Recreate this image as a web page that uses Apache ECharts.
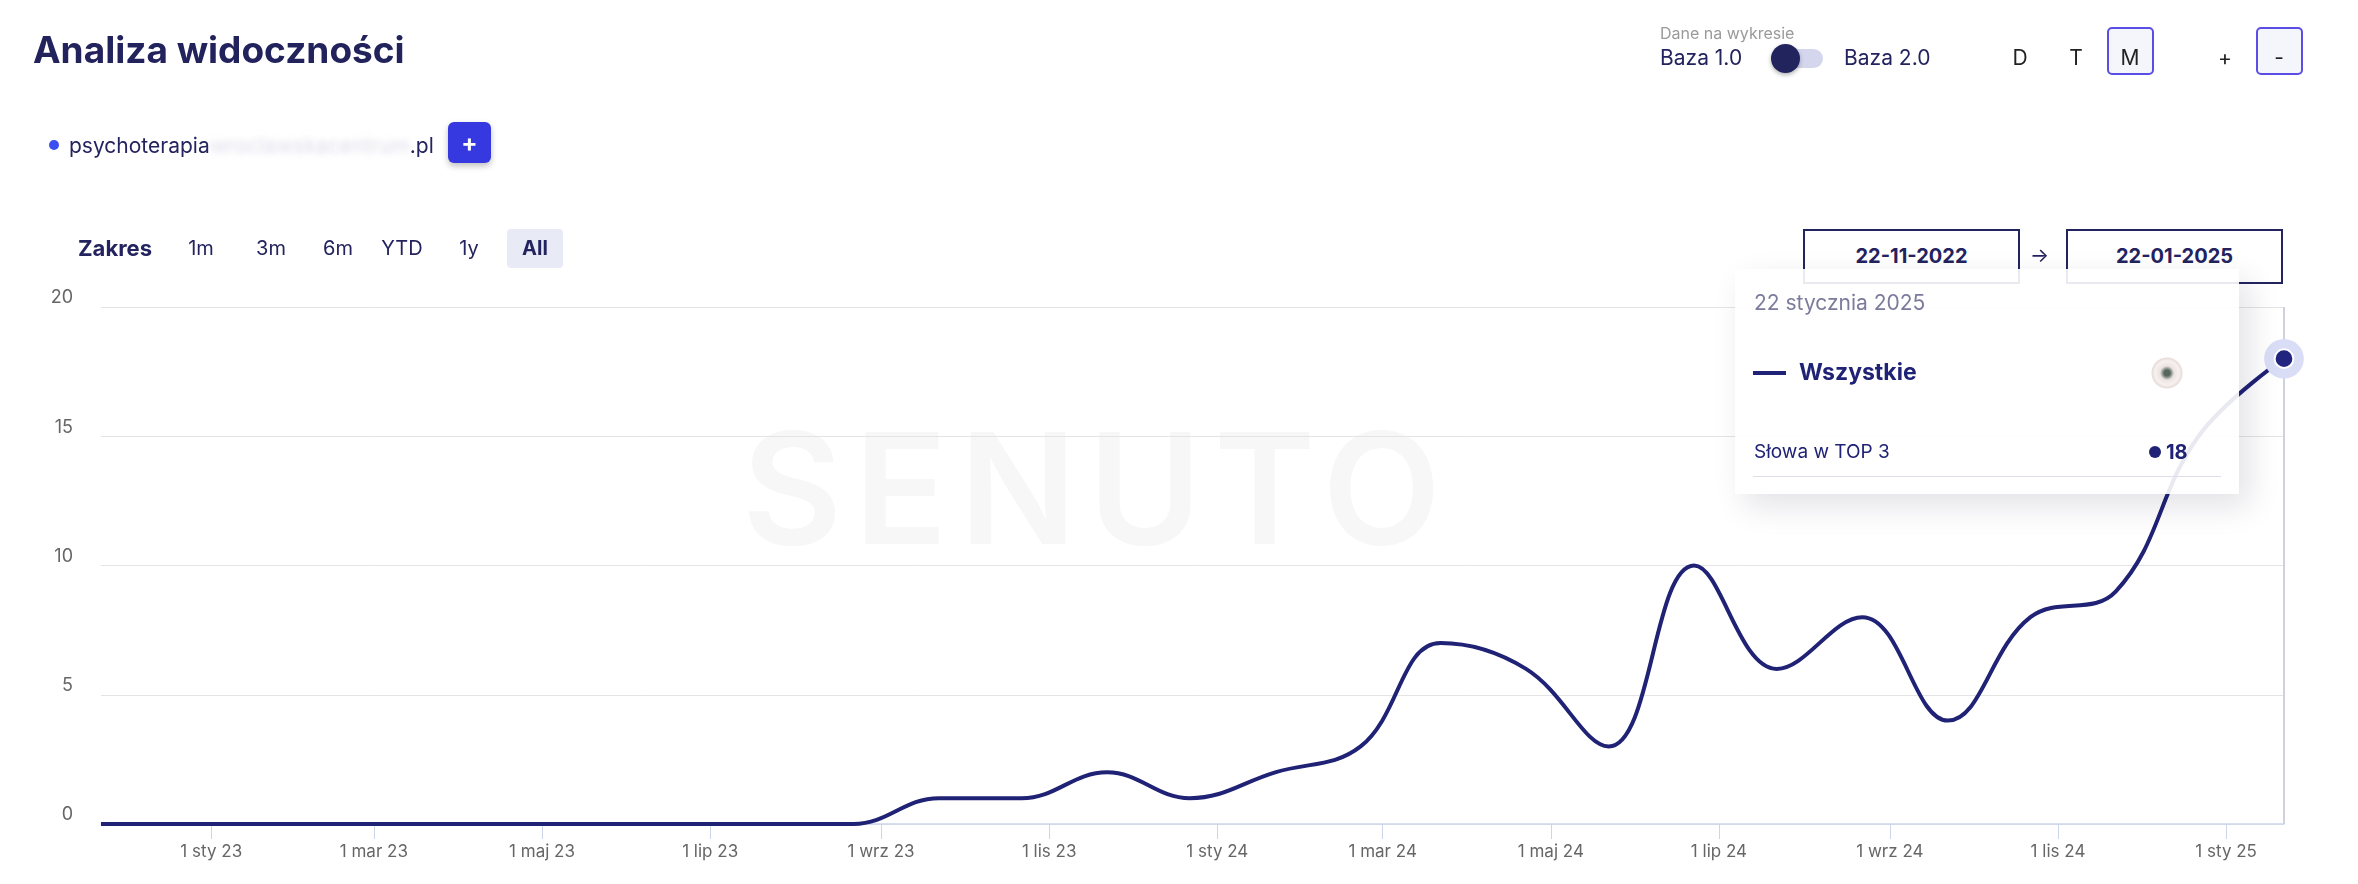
<!DOCTYPE html>
<html lang="pl">
<head>
<meta charset="utf-8">
<title>Analiza widoczności</title>
<script src="https://cdn.jsdelivr.net/npm/echarts@6/dist/echarts.min.js"></script>
<style>
html, body { margin: 0; padding: 0; background: #fff; }
body { width: 2358px; height: 884px; position: relative; overflow: hidden; font-family: Inter, "Noto Sans", sans-serif; color: #23235f; }
#chart { position: absolute; left: 0; top: 0; width: 2358px; height: 884px; }
.ui { position: absolute; z-index: 5; white-space: nowrap; }
.watermark { position: absolute; left: 742px; top: 411px; font-size: 154px; line-height: 154px; font-weight: 600; color: #f7f7f7; letter-spacing: 12px; }
.title { left: 33px; top: 31px; font-size: 37px; line-height: 37px; font-weight: 700; color: #22225c; }
.dot { left: 49px; top: 140px; width: 10px; height: 10px; border-radius: 50%; background: #3b4ff0; }
.domain { left: 69px; top: 135px; font-size: 21px; line-height: 21px; color: #23235f; }
.domain .hid { color: transparent; text-shadow: 0 0 6px rgba(190, 190, 215, 0.55); }
.addbtn { left: 448px; top: 122px; width: 43px; height: 41px; border-radius: 6px; background: #3638e0; box-shadow: 0 3px 6px rgba(0,0,0,0.25); color: #fff; font-size: 24px; font-weight: 700; line-height: 41px; text-align: center; }
.small { left: 1660px; top: 25px; font-size: 16px; line-height: 16px; color: #9a9a9a; }
.baza { top: 47px; font-size: 21px; line-height: 21px; color: #23235f; }
.track { left: 1772px; top: 49px; width: 51px; height: 19px; border-radius: 10px; background: #d4d6ee; }
.knob { left: 1771px; top: 44px; width: 29px; height: 29px; border-radius: 50%; background: #22245e; box-shadow: 0 2px 4px rgba(0,0,0,0.3); }
.gran { top: 47px; width: 40px; margin-left: -20px; text-align: center; font-size: 21px; line-height: 21px; color: #222; }
.box { top: 27px; width: 43px; height: 44px; border: 2px solid #5a4ee6; border-radius: 5px; background: #f5f5fc; }
.zak { top: 237px; font-size: 22px; line-height: 22px; color: #23235f; }
.rng { top: 238px; width: 60px; margin-left: -30px; text-align: center; font-size: 20px; line-height: 20px; color: #23235f; }
.allbox { left: 507px; top: 229px; width: 56px; height: 39px; border-radius: 4px; background: #e8ebf5; }
.datebox { top: 229px; height: 51px; border: 2px solid #23235f; background: #fff; font-size: 20px; font-weight: 700; line-height: 51px; text-align: center; color: #23235f; z-index: 4; }
.arrow { left: 2030px; top: 245px; font-size: 20px; line-height: 20px; color: #23235f; }
</style>
</head>
<body>
<div class="watermark">SENUTO</div>
<div id="chart"></div>

<div class="ui title">Analiza widoczności</div>
<div class="ui dot"></div>
<div class="ui domain">psychoterapia<span class="hid">wroclawskacentrum</span>.pl</div>
<div class="ui addbtn">+</div>

<div class="ui small">Dane na wykresie</div>
<div class="ui baza" style="left:1660px">Baza 1.0</div>
<div class="ui track"></div>
<div class="ui knob"></div>
<div class="ui baza" style="left:1844px">Baza 2.0</div>
<div class="ui gran" style="left:2020px">D</div>
<div class="ui gran" style="left:2076px">T</div>
<div class="ui box" style="left:2107px"></div>
<div class="ui gran" style="left:2130px">M</div>
<div class="ui gran" style="left:2225px">+</div>
<div class="ui box" style="left:2256px"></div>
<div class="ui gran" style="left:2279px">-</div>

<div class="ui zak" style="left:78px;font-weight:700">Zakres</div>
<div class="ui allbox"></div>
<div class="ui rng" style="left:201px">1m</div>
<div class="ui rng" style="left:271px">3m</div>
<div class="ui rng" style="left:338px">6m</div>
<div class="ui rng" style="left:402px">YTD</div>
<div class="ui rng" style="left:469px">1y</div>
<div class="ui rng" style="left:535px;font-weight:700">All</div>

<div class="ui datebox" style="left:1803px;width:213px">22-11-2022</div>
<div class="ui arrow">→</div>
<div class="ui datebox" style="left:2066px;width:213px">22-01-2025</div>

<script>
// monthly points (22nd of each month)
const dates = [
    '2022-11-22', '2022-12-22', '2023-01-22', '2023-02-22', '2023-03-22', '2023-04-22',
    '2023-05-22', '2023-06-22', '2023-07-22', '2023-08-22', '2023-09-22', '2023-10-22',
    '2023-11-22', '2023-12-22', '2024-01-22', '2024-02-22', '2024-03-22', '2024-04-22',
    '2024-05-22', '2024-06-22', '2024-07-22', '2024-08-22', '2024-09-22', '2024-10-22',
    '2024-11-22', '2024-12-22', '2025-01-22'
];
const values = [
    0, 0, 0, 0, 0, 0,
    0, 0, 0, 0, 1, 1,
    2, 1, 2, 3, 7, 6,
    3, 10, 6, 8, 4, 8,
    9, 15, 18
];
const tickDates = [
    '2023-01-01', '2023-03-01', '2023-05-01', '2023-07-01', '2023-09-01', '2023-11-01',
    '2024-01-01', '2024-03-01', '2024-05-01', '2024-07-01', '2024-09-01', '2024-11-01',
    '2025-01-01'
];
const tickLabels = [
    '1 sty 23', '1 mar 23', '1 maj 23', '1 lip 23', '1 wrz 23', '1 lis 23',
    '1 sty 24', '1 mar 24', '1 maj 24', '1 lip 24', '1 wrz 24', '1 lis 24',
    '1 sty 25'
];
const monthsGen = ['stycznia', 'lutego', 'marca', 'kwietnia', 'maja', 'czerwca',
    'lipca', 'sierpnia', 'września', 'października', 'listopada', 'grudnia'];
const seriesName = 'Wszystkie';
const metricName = 'Słowa w TOP 3';

function toTime(s) {
    const p = s.split('-');
    return Date.UTC(+p[0], +p[1] - 1, +p[2]);
}

const times = dates.map(toTime);
const tickTimes = tickDates.map(toTime);
const lineData = times.map(function (t, i) { return [t, values[i]]; });
const last = lineData[lineData.length - 1];

const navy = '#1f2275';
const font = 'Inter, "Noto Sans", sans-serif';

const chart = echarts.init(document.getElementById('chart'));

const option = {
    animation: false,
    textStyle: { fontFamily: font },
    grid: {
        left: 101,
        right: 74,
        top: 307,
        bottom: 60,
        containLabel: false,
        outerBoundsMode: 'none'
    },
    // timestamps on a value axis so the bi-monthly ticks can be placed exactly
    xAxis: {
        type: 'value',
        min: times[0],
        max: times[times.length - 1],
        axisLine: { lineStyle: { color: '#ccd6eb', width: 1.5 } },
        axisTick: {
            show: true,
            length: 15,
            customValues: tickTimes,
            lineStyle: { color: '#ccd6eb', width: 1 }
        },
        axisLabel: {
            customValues: tickTimes,
            color: '#666666',
            fontSize: 17,
            margin: 19,
            hideOverlap: false,
            formatter: function (value) {
                const i = tickTimes.indexOf(+value);
                return i >= 0 ? tickLabels[i] : '';
            }
        },
        splitLine: { show: false }
    },
    yAxis: {
        type: 'value',
        min: 0,
        max: 20,
        interval: 5,
        axisLine: { show: false },
        axisTick: { show: false },
        axisLabel: {
            color: '#666666',
            fontSize: 18,
            margin: 28,
            verticalAlign: 'bottom'
        },
        splitLine: { lineStyle: { color: '#e4e4e4', width: 1 } }
    },
    tooltip: {
        trigger: 'axis',
        triggerOn: 'none',
        alwaysShowContent: true,
        transitionDuration: 0,
        position: [1735, 269],
        padding: 0,
        borderWidth: 0,
        backgroundColor: 'rgba(255,255,255,0.9)',
        extraCssText: 'box-shadow: 10px 12px 30px rgba(20,20,60,0.12); border-radius: 0;',
        axisPointer: {
            type: 'line',
            z: 1,
            label: { show: false },
            lineStyle: { color: '#cfd2de', width: 2, type: 'solid' }
        },
        formatter: function (params) {
            const p = params.filter(function (q) { return q.seriesIndex === 0; })[0];
            const d = new Date(p.value[0]);
            const dateText = d.getUTCDate() + ' ' + monthsGen[d.getUTCMonth()] + ' ' + d.getUTCFullYear();
            return '<div style="position:relative;width:504px;height:225px;font-family:' + font.replace(/"/g, "'") + ';">' +
                '<div style="position:absolute;left:19px;top:23px;font-size:21px;line-height:21px;color:#7b7b9c;">' + dateText + '</div>' +
                '<div style="position:absolute;left:18px;top:102px;width:33px;height:4px;background:' + navy + ';"></div>' +
                '<div style="position:absolute;left:64px;top:92px;font-size:23px;line-height:23px;font-weight:700;color:' + navy + ';">' + seriesName + '</div>' +
                '<div style="position:absolute;left:416px;top:88px;width:32px;height:32px;border-radius:50%;' +
                'background:radial-gradient(circle, #56685e 0 3px, #ece3e0 7px, #f6f1ef 12px, #e8dcd8 15px, rgba(255,255,255,0) 16px);"></div>' +
                '<div style="position:absolute;left:19px;top:173px;font-size:19px;line-height:19px;color:' + navy + ';">' + metricName + '</div>' +
                '<div style="position:absolute;left:414px;top:177px;width:12px;height:12px;border-radius:50%;background:' + navy + ';"></div>' +
                '<div style="position:absolute;left:431px;top:173px;font-size:20px;line-height:20px;font-weight:700;color:' + navy + ';">' + p.value[1] + '</div>' +
                '<div style="position:absolute;left:18px;top:207px;width:468px;height:1px;background:#dedee6;"></div>' +
                '</div>';
        }
    },
    series: [
        {
            name: seriesName,
            type: 'line',
            data: lineData,
            smooth: 0.4,
            symbol: 'none',
            lineStyle: { color: navy, width: 4 },
            emphasis: { disabled: true },
            z: 3
        },
        {
            name: 'halo',
            type: 'scatter',
            data: [last],
            symbolSize: 36,
            itemStyle: { color: '#c6c9e0', opacity: 1 },
            silent: true,
            z: 60
        },
        {
            name: 'marker',
            type: 'scatter',
            data: [last],
            symbolSize: 17,
            itemStyle: { color: navy, borderColor: '#ffffff', borderWidth: 2, opacity: 1 },
            silent: true,
            z: 61
        }
    ]
};

chart.setOption(option);

function showLast() {
    chart.dispatchAction({ type: 'showTip', seriesIndex: 0, dataIndex: lineData.length - 1 });
}
showLast();
chart.on('finished', function once() {
    chart.off('finished', once);
    showLast();
});
</script>
</body>
</html>
